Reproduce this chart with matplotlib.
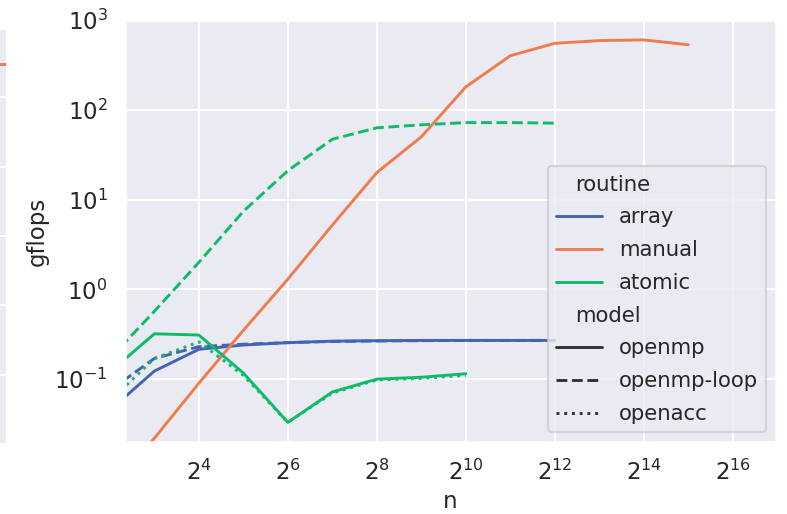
import matplotlib
matplotlib.use("Agg")
import matplotlib.pyplot as plt
from matplotlib.lines import Line2D
import seaborn as sns

sns.set_theme(style="darkgrid", context="talk")
plt.rcParams['font.family'] = ['DejaVu Sans']

# n = 2^k
n_exp = [2, 3, 4, 5, 6, 7, 8, 9, 10, 11, 12, 13, 14, 15]
n = [2 ** k for k in n_exp]

# routine / model -> gflops
array_openmp = [0.045, 0.123, 0.215, 0.24, 0.255, 0.265, 0.268, 0.27, 0.27, 0.27, 0.27]
array_loop = [0.075, 0.17, 0.23, 0.245, 0.255, 0.263, 0.266, 0.268, 0.27, 0.27, 0.27]
manual_openmp = [0.006, 0.022, 0.09, 0.35, 1.3, 5.2, 20, 50, 180, 400, 550, 590, 600, 530]
atomic_openmp = [0.12, 0.32, 0.31, 0.117, 0.033, 0.072, 0.1, 0.105, 0.115]
atomic_loop = [0.17, 0.57, 2.0, 7.4, 21, 47, 63, 68, 72, 72, 71]
atomic_openacc = [0.057, 0.17, 0.26, 0.11, 0.033, 0.07, 0.098, 0.102, 0.11]

# neighbouring panel (only its right edge is visible)
neighbour_level = 3000

blue = '#4463b5'
orange = '#f07c4e'
green = '#0fba6b'
lw = 2.1

fig = plt.figure(figsize=(7.87, 5.14), dpi=100)

ax0 = fig.add_axes([-0.5, 70 / 514, 0.5 + 7 / 787, 416 / 514])
ax0.set_yscale('log')
ax0.set_ylim(1e-2, 1e4)
ax0.axhline(neighbour_level, color=orange, lw=lw)
ax0.set_xticklabels([])
ax0.set_yticklabels([])

ax = fig.add_axes([125 / 787, 72 / 514, 651 / 787, 422 / 514])
ax.plot(n[:11], array_openmp, color=blue, lw=lw, ls='-')
ax.plot(n[:11], array_loop, color=blue, lw=lw, ls='--')
ax.plot(n, manual_openmp, color=orange, lw=lw, ls='-')
ax.plot(n[:9], atomic_openmp, color=green, lw=lw, ls='-')
ax.plot(n[:11], atomic_loop, color=green, lw=lw, ls=(0, (3.7, 1.6)))
ax.plot(n[:9], atomic_openacc, color=green, lw=lw, ls=':')

ax.set_xscale('log', base=2)
ax.set_yscale('log')
ax.set_xlim(2 ** 2.34, 2 ** 16.97)
ax.set_ylim(10 ** -1.7, 1e3)
ax.set_xticks([2 ** k for k in range(4, 17, 2)])
ax.set_xlabel('n', fontsize=16.5)
ax.set_ylabel('gflops', fontsize=16.5)
ax.tick_params(labelsize=16.5)

blank = Line2D([], [], color='none')
handles = [blank,
           Line2D([], [], color=blue, lw=lw),
           Line2D([], [], color=orange, lw=lw),
           Line2D([], [], color=green, lw=lw),
           blank,
           Line2D([], [], color='#333333', lw=lw, ls='-'),
           Line2D([], [], color='#333333', lw=lw, ls='--'),
           Line2D([], [], color='#333333', lw=lw, ls=':')]
labels = ['routine', 'array', 'manual', 'atomic',
          'model', 'openmp', 'openmp-loop', 'openacc']
leg = ax.legend(handles, labels, loc='lower right', fontsize=15.3,
                handlelength=2.15, handletextpad=0.8, labelspacing=0.6,
                borderaxespad=0.45)
for t in leg.get_texts():
    if t.get_text() in ('routine', 'model'):
        t.set_position((-44, 0))

fig.savefig('out.png', dpi=100)
